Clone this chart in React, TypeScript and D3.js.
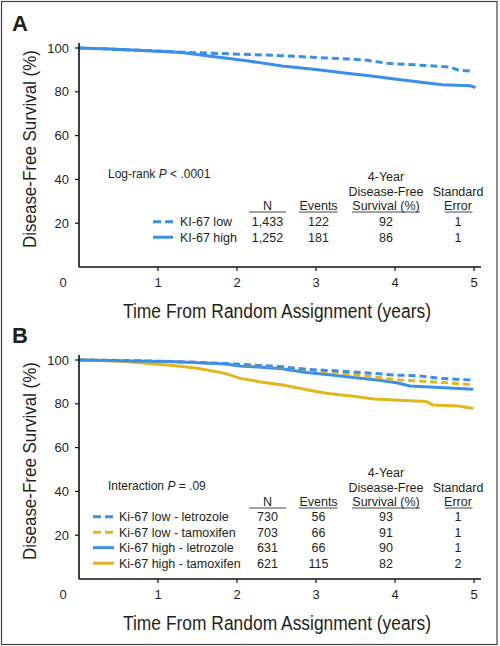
import React from "react";
import * as d3 from "d3";

// ---------- data ----------
const xTicks = [1, 2, 3, 4, 5];
const yTicks = [20, 40, 60, 80, 100];

// Panel A
const aLowT = [0, 0.3, 0.8, 1.3, 1.7, 2.2, 2.55, 2.95, 3.4, 3.65, 3.9, 4.25, 4.7, 4.8, 5.0];
const aLowV = [100, 99.6, 98.9, 98.1, 97.6, 97.0, 96.5, 95.8, 95.0, 94.4, 93.0, 92.3, 91.3, 89.9, 89.3];
const aHighT = [0, 0.4, 0.8, 1.3, 1.72, 2.1, 2.57, 3.0, 3.39, 3.7, 4.02, 4.44, 4.6, 4.95, 5.02];
const aHighV = [100, 99.5, 98.9, 97.9, 96.0, 94.3, 91.8, 90.2, 88.5, 87.2, 85.7, 83.9, 83.2, 82.8, 81.9];

// Panel B
const bLowLetT = [0, 0.5, 1.22, 1.85, 2.57, 2.88, 3.3, 3.6, 4.02, 4.3, 4.57, 4.99];
const bLowLetV = [100, 99.8, 99.3, 98.4, 96.9, 95.7, 95.0, 94.2, 93.1, 92.8, 91.6, 90.8];
const bLowTamT = [0, 0.5, 1.2, 1.85, 2.57, 3.0, 3.3, 3.7, 4.0, 4.4, 4.7, 5.0];
const bLowTamV = [100, 99.7, 99.2, 98.3, 96.8, 95.2, 93.9, 92.5, 91.0, 90.2, 89.5, 88.6];
const bHighLetT = [0, 0.5, 1.22, 1.85, 2.04, 2.57, 2.88, 3.2, 3.51, 3.8, 4.02, 4.19, 4.5, 4.99];
const bHighLetV = [100, 99.7, 99.2, 98.2, 97.3, 96.0, 94.3, 93.1, 91.9, 90.8, 89.6, 88.1, 87.6, 86.6];
const bHighTamT = [0, 0.46, 1.0, 1.22, 1.5, 1.85, 2.04, 2.3, 2.58, 2.9, 3.13, 3.5, 3.73, 4.06, 4.4, 4.48, 4.8, 4.99];
const bHighTamV = [100, 99.6, 98.1, 97.4, 96.2, 93.9, 91.6, 90.0, 88.6, 86.3, 84.8, 83.3, 82.2, 81.6, 81.0, 79.4, 79.0, 77.9];

const aLabels = ["KI-67 low", "KI-67 high"];
const aN = ["1,433", "1,252"];
const aEvents = ["122", "181"];
const aDFS = ["92", "86"];
const aSE = ["1", "1"];

const bLabels = ["Ki-67 low - letrozole", "Ki-67 low - tamoxifen", "Ki-67 high - letrozole", "Ki-67 high - tamoxifen"];
const bN = ["730", "703", "631", "621"];
const bEvents = ["56", "66", "66", "115"];
const bDFS = ["93", "91", "90", "82"];
const bSE = ["1", "1", "1", "2"];

const BLUE = "#3a8fe6";
const YELLOW = "#e2b71a";
const TXT = "#231f20";
const FONT = "Liberation Sans, Arial, Helvetica, sans-serif";
const NARROW = "'Liberation Sans Narrow', 'Arial Narrow', 'Liberation Sans', Arial, sans-serif";
const TFS = 12.5;

type Series = { t: number[]; v: number[]; color: string; dashed: boolean };

function Panel(props: {
  oy: number;
  letter: string;
  series: Series[];
  note: React.ReactNode;
  labels: string[];
  legend: { color: string; dashed: boolean }[];
  n: string[]; ev: string[]; dfs: string[]; se: string[];
  noteY: number; headY: number; rowY: number;
  legX1: number; legX2: number; labX: number;
}) {
  const { oy } = props;
  const x = d3.scaleLinear().domain([0, 5]).range([79, 474]);
  const y = d3.scaleLinear().domain([0, 100]).range([oy + 219, oy]);
  const y0 = y(0);
  const line = d3.line<[number, number]>().x((d) => x(d[0])).y((d) => y(d[1])).curve(d3.curveLinear);
  const cols = [
    { cx: 267.5, head: ["N"], ul: [249, 286] as [number, number], vals: props.n },
    { cx: 318.5, head: ["Events"], ul: [299, 337.5] as [number, number], vals: props.ev },
    { cx: 386, head: ["4-Year", "Disease-Free", "Survival (%)"], ul: [352, 420] as [number, number], vals: props.dfs },
    { cx: 458, head: ["Standard", "Error"], ul: [445, 472.5] as [number, number], vals: props.se },
  ];
  const lh = 14.5;
  const rh = 15.5;
  return (
    <g>
      <text x={12} y={oy - 17} fontFamily={FONT} fontWeight="bold" fontSize={22} fill={TXT}>{props.letter}</text>
      {props.series.map((s, i) => (
        <path key={i} d={line(s.t.map((t, j) => [t, s.v[j]] as [number, number])) || ""}
          fill="none" stroke={s.color} strokeWidth={3} strokeDasharray={s.dashed ? "7,4" : undefined}
          strokeLinejoin="round" />
      ))}
      <line x1={79} x2={79} y1={oy - 5} y2={y0} stroke="#111" strokeWidth={1.6} />
      <line x1={79} x2={481} y1={y0} y2={y0} stroke="#111" strokeWidth={1.6} />
      {yTicks.map((t) => (
        <g key={"y" + t}>
          <line x1={75} x2={79} y1={y(t)} y2={y(t)} stroke="#111" strokeWidth={1.2} />
          <text x={69} y={y(t) + 4.5} textAnchor="end" fontFamily={FONT} fontSize={13} fill={TXT}>{t}</text>
        </g>
      ))}
      {xTicks.map((t) => (
        <g key={"x" + t}>
          <line x1={x(t)} x2={x(t)} y1={y0} y2={y0 + 4} stroke="#111" strokeWidth={1.2} />
          <text x={x(t)} y={y0 + 20} textAnchor="middle" fontFamily={FONT} fontSize={13} fill={TXT}>{t}</text>
        </g>
      ))}
      <text x={63} y={y0 + 20} textAnchor="middle" fontFamily={FONT} fontSize={13} fill={TXT}>0</text>
      <text x={277} y={y0 + 51} textAnchor="middle" fontFamily={NARROW} fontSize={20} fill={TXT}
        textLength={308} lengthAdjust="spacingAndGlyphs">Time From Random Assignment (years)</text>
      <text transform={`translate(35.5,${oy + 101}) rotate(-90)`} textAnchor="middle" fontFamily={NARROW}
        fontSize={19} fill={TXT} textLength={198} lengthAdjust="spacingAndGlyphs">Disease-Free Survival (%)</text>
      <text x={108} y={props.noteY} fontFamily={FONT} fontSize={12} fill={TXT}>{props.note}</text>
      {cols.map((c, i) => (
        <g key={"h" + i}>
          {c.head.map((h, j) => (
            <text key={j} x={c.cx} y={props.headY - (c.head.length - 1 - j) * lh} textAnchor="middle"
              fontFamily={FONT} fontSize={TFS} fill={TXT}>{h}</text>
          ))}
          <line x1={c.ul[0]} x2={c.ul[1]} y1={props.headY + 2} y2={props.headY + 2} stroke="#444" strokeWidth={1} />
          {c.vals.map((v, j) => (
            <text key={"v" + j} x={c.cx} y={props.rowY + j * rh} textAnchor="middle" fontFamily={FONT}
              fontSize={TFS} fill={TXT}>{v}</text>
          ))}
        </g>
      ))}
      {props.labels.map((l, j) => (
        <g key={"l" + j}>
          <line x1={props.legX1} x2={props.legX2} y1={props.rowY - 4.3 + j * rh} y2={props.rowY - 4.3 + j * rh}
            stroke={props.legend[j].color} strokeWidth={3}
            strokeDasharray={props.legend[j].dashed ? "8,4" : undefined} />
          <text x={props.labX} y={props.rowY + j * rh} fontFamily={FONT} fontSize={TFS} fill={TXT}>{l}</text>
        </g>
      ))}
    </g>
  );
}

export default function App() {
  const aSeries: Series[] = [
    { t: aHighT, v: aHighV, color: BLUE, dashed: false },
    { t: aLowT, v: aLowV, color: BLUE, dashed: true },
  ];
  const bSeries: Series[] = [
    { t: bHighTamT, v: bHighTamV, color: YELLOW, dashed: false },
    { t: bHighLetT, v: bHighLetV, color: BLUE, dashed: false },
    { t: bLowTamT, v: bLowTamV, color: YELLOW, dashed: true },
    { t: bLowLetT, v: bLowLetV, color: BLUE, dashed: true },
  ];
  return (
    <div style={{ position: "fixed", left: 0, top: 0, width: 500, height: 646, background: "#fff" }}>
      <svg width={500} height={646} style={{ display: "block" }}>
        <rect x={0} y={0} width={500} height={646} fill="#fff" />
        <rect x={1.5} y={1.5} width={495.5} height={643} fill="none" stroke="#444" strokeWidth={1.2} />
        <Panel oy={48} letter="A" series={aSeries}
          note={<>Log-rank <tspan fontStyle="italic">P</tspan> &lt; .0001</>}
          labels={aLabels} legend={[{ color: BLUE, dashed: true }, { color: BLUE, dashed: false }]}
          n={aN} ev={aEvents} dfs={aDFS} se={aSE}
          noteY={177.5} headY={210} rowY={226} legX1={153} legX2={173} labX={180} />
        <Panel oy={360} letter="B" series={bSeries}
          note={<>Interaction <tspan fontStyle="italic">P</tspan> = .09</>}
          labels={bLabels}
          legend={[
            { color: BLUE, dashed: true },
            { color: YELLOW, dashed: true },
            { color: BLUE, dashed: false },
            { color: YELLOW, dashed: false },
          ]}
          n={bN} ev={bEvents} dfs={bDFS} se={bSE}
          noteY={490} headY={506} rowY={521} legX1={93} legX2={114} labX={119} />
      </svg>
    </div>
  );
}
